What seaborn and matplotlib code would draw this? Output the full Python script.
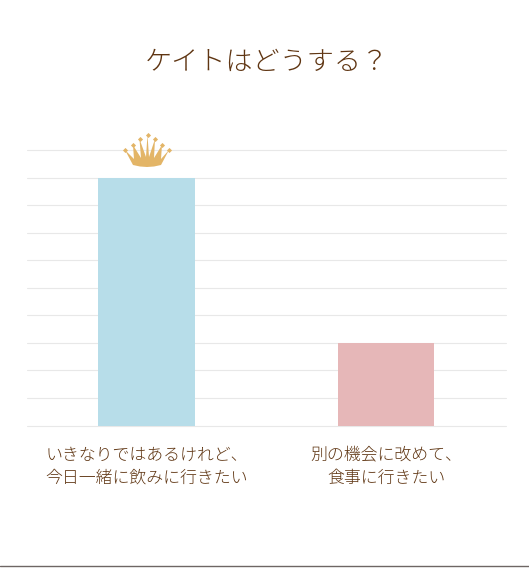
import pandas as pd
import matplotlib.pyplot as plt
from matplotlib.patches import Polygon
from matplotlib.lines import Line2D
from matplotlib.transforms import Affine2D
import seaborn as sns

title = "ケイトはどうする？"
categories = ["いきなりではあるけれど、\n今日一緒に飲みに行きたい", "別の機会に改めて、\n食事に行きたい"]
values = [90, 30]
bar_colors = ["#b7dde9", "#e6b7b8"]
text_color = "#5f3512"
W, H = 529, 568

df = pd.DataFrame({"choice": categories, "percent": values})

sns.set_theme(style="white")
plt.rcParams['font.family'] = ['Noto Sans CJK JP', 'DejaVu Sans']

fig = plt.figure(figsize=(W / 100, H / 100), dpi=100)
ax = fig.add_axes([27 / W, 1 - 425.5 / H, 478.5 / W, 275.5 / H])

sns.barplot(data=df, x="choice", y="percent", hue="choice", palette=bar_colors,
            width=0.403, legend=False, saturation=1, linewidth=0, ax=ax, zorder=2)

ax.set_xlim(-0.5, 1.5)
ax.set_ylim(0, 100)
ax.set_yticks(range(0, 101, 10))
ax.set_yticklabels([])
ax.grid(axis="y", color="#e8e8e8", linewidth=0.8, zorder=1, clip_on=False)
ax.set_axisbelow(True)
ax.set_xlabel("")
ax.set_ylabel("")
sns.despine(ax=ax, left=True, top=True, right=True, bottom=True)
ax.tick_params(axis="both", length=0)
ax.tick_params(axis="x", pad=15.5)
for label in ax.get_xticklabels():
    label.set_fontsize(12.2)
    label.set_color(text_color)
    label.set_fontweight("light")
    label.set_linespacing(1.45)
ax.get_xticklabels()[0].set_multialignment("left")

fig.text(267 / W, 1 - 62 / H, title, fontsize=19.5, color=text_color, fontweight="light",
         ha="center", va="center")

# crown over the winning bar, outlined in pixels from the top left corner
px = Affine2D().scale(1, -1).translate(0, H)
crown = [(125, 150), (134, 159), (133, 145), (141, 158), (139.5, 139), (146, 157), (147.5, 135),
         (149, 157), (155, 139), (154, 158), (162, 145), (161, 159), (169, 150), (161, 165),
         (154, 166.5), (147, 167), (140, 166.5), (133, 165)]
fig.add_artist(Polygon(crown, closed=True, facecolor="#e3b567", edgecolor="none", transform=px))
for x, y in [(125, 149.5), (133, 145), (140, 139), (147.5, 135), (155, 139), (162, 145), (169, 149.5)]:
    fig.add_artist(Line2D([x], [y], marker="D", markersize=2.6, color="#e3b567",
                          markeredgewidth=0, transform=px))

# dark rule at the bottom of the page
fig.add_artist(Line2D([0, W], [566, 566], color="#6e6664", linewidth=1, transform=px))

plt.savefig("out.png", dpi=100)
